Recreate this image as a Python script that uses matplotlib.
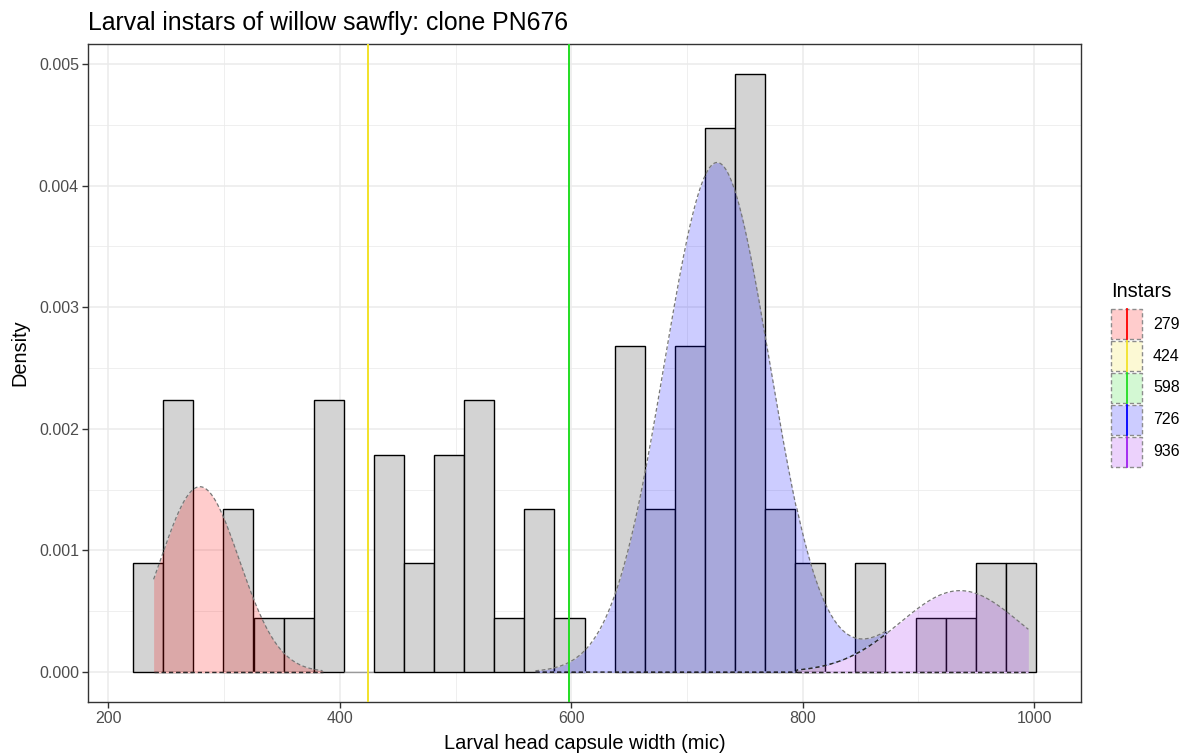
import numpy as np
import matplotlib
matplotlib.use("Agg")
import matplotlib.pyplot as plt
from matplotlib.patches import Rectangle
from matplotlib.colors import to_rgb

plt.rcParams['font.family'] = ['Liberation Sans', 'DejaVu Sans']

# ---------------- data ----------------
data_min = 234.3          # smallest head capsule width
data_max = 988.5          # largest head capsule width
n_bins = 30
bin_counts = [2, 5, 0, 3, 1, 1, 5, 0, 4, 2, 4, 5, 1, 3, 1, 0,
              6, 3, 6, 10, 11, 3, 2, 0, 2, 0, 1, 1, 2, 2]

instar_labels = ['279', '424', '598', '726', '936']
instar_means = [279, 424, 598, 726, 936]
instar_sd = [34.0, 0.0, 0.0, 45.5, 52.0]
instar_weight = [0.1299, 0.0, 0.0, 0.4779, 0.0873]
curve_from = [239.0, None, None, 569.0, 795.0]
curve_to = [385.0, None, None, 873.0, 995.0]
instar_colors = ['#FF0000', '#F2E22A', '#22DD22', '#0000FF', '#A020F0']

x_ticks = [200, 400, 600, 800, 1000]
y_ticks = [0.000, 0.001, 0.002, 0.003, 0.004, 0.005]

title = 'Larval instars of willow sawfly: clone PN676'
x_title = 'Larval head capsule width (mic)'
y_title = 'Density'
legend_title = 'Instars'

# ---------------- helpers ----------------
W, H = 1192, 755
def tint(c, a=0.2):
    r, g, b = to_rgb(c)
    return (1 - a + a * r, 1 - a + a * g, 1 - a + a * b)

def comp_pdf(i, x):
    s = instar_sd[i]
    return instar_weight[i] * np.exp(-(x - instar_means[i]) ** 2 / (2 * s * s)) / (s * np.sqrt(2 * np.pi))

# ---------------- figure ----------------
fig = plt.figure(figsize=(W / 100, H / 100), dpi=100)
ax = fig.add_axes([88 / W, 1 - 702 / H, (1081 - 88) / W, (702 - 44) / H])

binw = (data_max - data_min) / (n_bins - 1)
left0 = data_min - binw / 2
edges = left0 + binw * np.arange(n_bins + 1)
N = sum(bin_counts)
dens = np.array(bin_counts) / (N * binw)

edgecols = ['black' if c > 0 else '#9A9A9A' for c in bin_counts]
ax.bar(edges[:-1], dens, width=binw, align='edge', color='#D3D3D3',
       edgecolor=edgecols, linewidth=1.0, zorder=2)

# mixture component areas (stacked: purple at bottom, blue above)
def draw_area(i, lower_fn):
    x = np.linspace(curve_from[i], curve_to[i], 500)
    lo = lower_fn(x)
    hi = lo + comp_pdf(i, x)
    col = instar_colors[i]
    ax.fill_between(x, lo, hi, color=col, alpha=0.2, linewidth=0, zorder=3)
    ax.plot(x, hi, color='#777777', lw=0.9, ls=(0, (3, 2)), zorder=4)
    ax.plot(x, lo, color='#2A2A2A', lw=1.0, ls=(0, (3, 2.2)),
            gapcolor=tint(col, 0.25), zorder=4)

def purple_part(x):
    y = comp_pdf(4, x)
    y[(x < curve_from[4]) | (x > curve_to[4])] = 0
    return y

draw_area(0, lambda x: np.zeros_like(x))
draw_area(4, lambda x: np.zeros_like(x))
draw_area(3, purple_part)

# instars with no spread shown as lines
for i in (1, 2):
    ax.axvline(instar_means[i], color=instar_colors[i], lw=1.4, zorder=5)

# axes styling
ax.set_xlim(left0 - 0.05 * (edges[-1] - edges[0]), edges[-1] + 0.05 * (edges[-1] - edges[0]))
ymax = dens.max()
ax.set_ylim(-0.05 * ymax, 1.05 * ymax)
ax.set_xticks(x_ticks)
ax.set_xticks([300, 500, 700, 900], minor=True)
ax.set_yticks(y_ticks)
ax.set_yticks([0.0005, 0.0015, 0.0025, 0.0035, 0.0045], minor=True)
ax.set_yticklabels(['%.3f' % v for v in y_ticks])
ax.set_axisbelow(True)
ax.grid(which='major', color='#EBEBEB', lw=1.1)
ax.grid(which='minor', color='#EBEBEB', lw=0.55)
for sp in ax.spines.values():
    sp.set_color('#333333')
    sp.set_linewidth(1.0)
ax.tick_params(which='major', length=4, width=1.0, color='#333333',
               labelcolor='#4D4D4D', labelsize=11.5, pad=2.5)
ax.tick_params(which='minor', length=0)

fig.text(88 / W, 1 - 30 / H, title, fontsize=17.9, ha='left', va='baseline', color='black')
fig.text(584.5 / W, 1 - 749 / H, x_title, fontsize=14.4, ha='center', va='baseline', color='black')
fig.text(20 / W, 1 - 353 / H, y_title, fontsize=14.4, ha='center', va='center',
         rotation=90, color='black')

# legend drawn in pixel space
lax = fig.add_axes([0, 0, 1, 1], zorder=10)
lax.set_xlim(0, W)
lax.set_ylim(H, 0)
lax.axis('off')
lax.text(1111.5, 297, legend_title, fontsize=14.4, ha='left', va='baseline')
key_x0, key_w = 1111, 31
for k, lab in enumerate(instar_labels):
    cy = 324.3 + 31.8 * k
    col = instar_colors[k]
    lax.add_patch(Rectangle((key_x0, cy - 15), key_w, 30, facecolor=tint(col, 0.2),
                            edgecolor='#8C8C8C', lw=1.0, ls=(0, (3, 2))))
    lax.plot([key_x0 + key_w / 2] * 2, [cy - 15, cy + 15], color=col, lw=1.3)
    lax.text(1153, cy, lab, fontsize=11.5, ha='left', va='center', color='black')

fig.savefig('out.png', dpi=100)
